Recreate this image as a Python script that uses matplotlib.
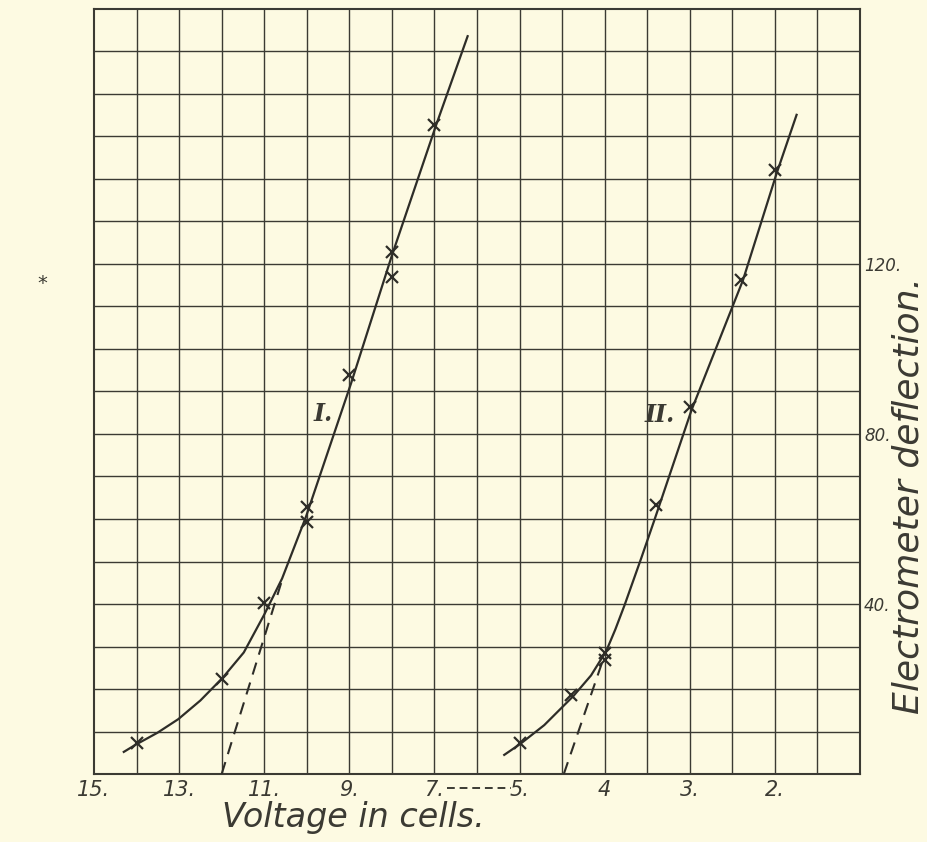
import matplotlib
matplotlib.use("Agg")
import matplotlib.pyplot as plt
import numpy as np

# observed readings (volts, electrometer deflection)
volts_I = [14, 12, 11, 10, 10, 9, 8, 8, 7]
defl_I = [7.4, 22.3, 40.2, 62.8, 59.4, 93.9, 122.9, 117.0, 152.7]

volts_II = [5, 4.4, 4, 4, 3.4, 3, 2.4, 2]
defl_II = [7.4, 18.6, 28.4, 26.8, 63.3, 86.4, 116.2, 142.1]

# hand-drawn curves through the readings
curve_I_v = [14.30, 14.02, 13.51, 13.02, 12.5, 11.98, 11.48, 11.0, 10.58,
             10.02, 8.96, 8.0, 6.96, 6.22]
curve_I_d = [5.2, 6.9, 9.7, 12.9, 17.3, 22.6, 28.6, 37.5, 46.0,
             60.5, 91.9, 122.0, 152.7, 173.6]
curve_II_v = [5.18, 4.99, 4.71, 4.365, 4.16, 3.98, 3.875, 3.765, 3.57,
              3.415, 2.98, 2.375, 1.98, 1.745]
curve_II_d = [4.5, 7.1, 11.5, 18.4, 23.2, 29.0, 34.0, 39.8, 50.8,
              59.8, 85.6, 116.2, 141.3, 155.1]

# extrapolated starting lines
tan_I_v = [12.0, 10.56]
tan_I_d = [0, 46.3]
tan_II_v = [4.48, 4.0]
tan_II_d = [0, 28]

ticks_I = [15, 13, 11, 9, 7]
ticks_II = [5, 4, 3, 2]
y_ticks = [40, 80, 120]


def pos_I(v):
    # one cell per square
    return 15 - np.asarray(v, dtype=float)


def pos_II(v):
    # half a cell per square, starting at the 10th column
    return 10 + 2 * (5 - np.asarray(v, dtype=float))


ink = "#3b3a33"
paper = "#fdfae2"

fig = plt.figure(figsize=(9.28, 8.42), dpi=100, facecolor=paper)
ax = fig.add_axes([94 / 928, 68 / 842, 766 / 928, 765 / 842])
ax.set_facecolor(paper)
ax.set_xlim(0, 18)
ax.set_ylim(0, 180)

for k in range(1, 18):
    ax.axvline(k, color=ink, lw=1.0, zorder=1)
for k in range(10, 180, 10):
    ax.axhline(k, color=ink, lw=1.0, zorder=1)
for s in ax.spines.values():
    s.set_color(ink)
    s.set_linewidth(1.5)

ax.plot(pos_I(curve_I_v), curve_I_d, color="#2e2d28", lw=1.6, zorder=3)
ax.plot(pos_II(curve_II_v), curve_II_d, color="#2e2d28", lw=1.6, zorder=3)
ax.plot(pos_I(tan_I_v), tan_I_d, color="#2e2d28", lw=1.5, dashes=(6, 4), zorder=3)
ax.plot(pos_II(tan_II_v), tan_II_d, color="#2e2d28", lw=1.5, dashes=(6, 4), zorder=3)
ax.plot(pos_I(volts_I), defl_I, "x", color="#2e2d28", ms=8, mew=1.6, zorder=4)
ax.plot(pos_II(volts_II), defl_II, "x", color="#2e2d28", ms=8, mew=1.6, zorder=4)

ax.text(5.38, 84.7, "I.", family="DejaVu Serif", style="italic", weight="bold",
        fontsize=17, color=ink, ha="center", va="center")
ax.text(13.3, 84.5, "II.", family="DejaVu Serif", style="italic", weight="bold",
        fontsize=17, color=ink, ha="center", va="center")

xt = list(pos_I(ticks_I)) + list(pos_II(ticks_II))
xl = [f"{t}." for t in ticks_I] + ["5.", "4", "3.", "2."]
ax.set_xticks(xt)
ax.set_xticklabels(xl, fontsize=15, style="italic", color=ink)
ax.tick_params(axis="x", length=0, pad=4)

ax.yaxis.tick_right()
ax.set_yticks(y_ticks)
ax.set_yticklabels([f"{t}." for t in y_ticks], fontsize=12, style="italic",
                   color=ink)
ax.tick_params(axis="y", length=0, pad=3)

# broken-scale dashes between 7 and 5
ax.plot([8.3, 9.8], [-0.018, -0.018], transform=ax.get_xaxis_transform(),
        color=ink, lw=1.4, dashes=(4, 2.5), clip_on=False)

fig.text(353 / 928, 1 - 818 / 842, "Voltage in cells.", fontsize=24,
         style="italic", color=ink, ha="center", va="center")
fig.text(926 / 928, 1 - 495 / 842, "Electrometer deflection.", fontsize=26,
         style="italic", color=ink, ha="right", va="center", rotation=90)
fig.text(42 / 928, 1 - 283 / 842, "*", fontsize=14, color=ink,
         ha="center", va="center")

fig.savefig("out.png", dpi=100, facecolor=paper)
